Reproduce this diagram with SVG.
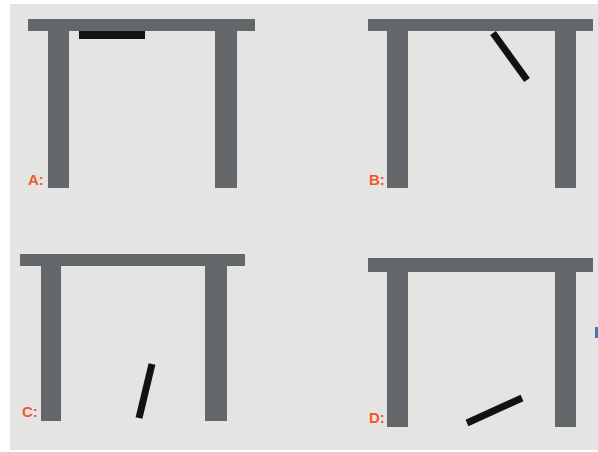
<svg xmlns="http://www.w3.org/2000/svg" width="598" height="452" viewBox="0 0 598 452">
<style>
.wood{fill:#63676a}
.bar{stroke:#111214;stroke-width:7;stroke-linecap:butt}
.lbl{font-family:"Liberation Sans",Arial,sans-serif;font-weight:bold;font-size:15px;fill:#f0582c}
</style>
<rect x="0" y="0" width="598" height="452" fill="#ffffff"/>
<rect x="10" y="4" width="588" height="446" fill="#e4e5e3"/>
<g id="tableA">
<rect class="wood" x="28" y="19" width="227" height="12"/>
<rect class="wood" x="48" y="31" width="21" height="157"/>
<rect class="wood" x="215" y="31" width="22" height="157"/>
<rect x="79" y="31" width="66" height="8" fill="#111214"/>
<text class="lbl" x="28" y="185">A:</text>
</g>
<g id="tableB">
<rect class="wood" x="368" y="19" width="225" height="12"/>
<rect class="wood" x="387" y="31" width="21" height="157"/>
<rect class="wood" x="555" y="31" width="21" height="157"/>
<line class="bar" x1="493" y1="33" x2="527" y2="80"/>
<text class="lbl" x="369" y="185">B:</text>
</g>
<g id="tableC">
<rect class="wood" x="20" y="254" width="225" height="12"/>
<rect class="wood" x="41" y="266" width="20" height="155"/>
<rect class="wood" x="205" y="266" width="22" height="155"/>
<line class="bar" x1="152" y1="364" x2="139" y2="418"/>
<text class="lbl" x="22" y="417">C:</text>
</g>
<g id="tableD">
<rect class="wood" x="368" y="258" width="225" height="14"/>
<rect class="wood" x="387" y="272" width="21" height="155"/>
<rect class="wood" x="555" y="272" width="21" height="155"/>
<line class="bar" x1="467" y1="423" x2="522" y2="398"/>
<text class="lbl" x="369" y="423">D:</text>
</g>
<rect x="595" y="327" width="3" height="11" fill="#4a72b8"/>
</svg>
